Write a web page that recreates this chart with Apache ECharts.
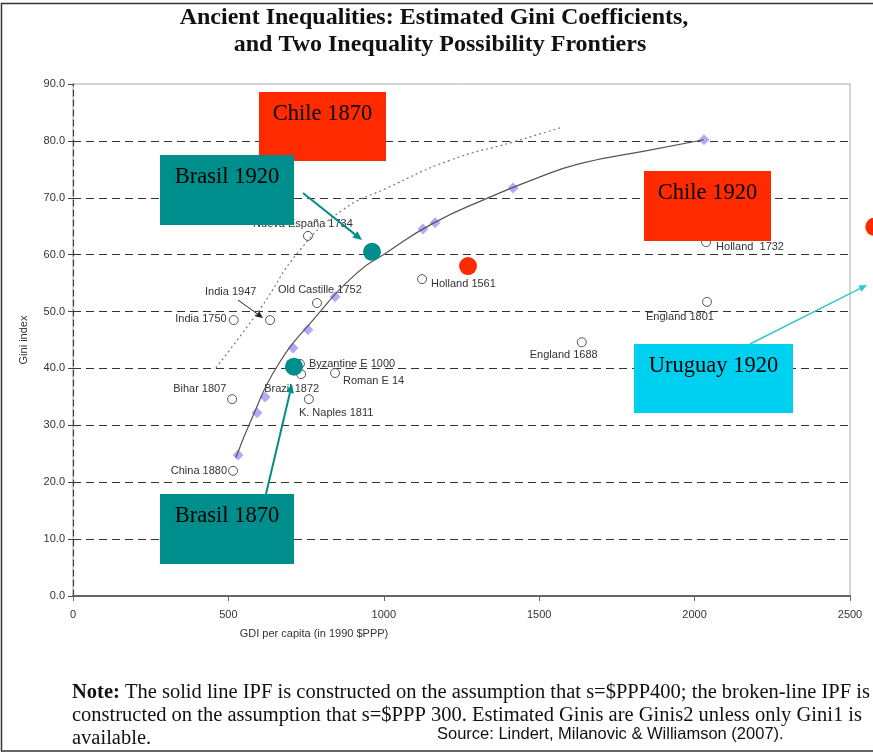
<!DOCTYPE html>
<html>
<head>
<meta charset="utf-8">
<script src="https://cdn.jsdelivr.net/npm/echarts@6/dist/echarts.min.js"></script>
<style>
  html, body { margin: 0; padding: 0; background: #fff; }
  #chart { width: 873px; height: 753px; }
</style>
</head>
<body>
<div id="chart"></div>
<script>
// estimated Gini points (open circles)
const pointNames = ['Nueva España 1734', 'India 1947', 'India 1750', 'Old Castille 1752', 'Holland 1561',
  'England 1688', 'Holland  1732', 'England 1801', 'Byzantine E 1000', 'Brazil 1872',
  'Roman E 14', 'K. Naples 1811', 'Bihar 1807', 'China 1880']
const pointGdp = [756, 634, 517, 785, 1123, 1637, 2037, 2040, 730, 734, 843, 759, 512, 515]
const pointGini = [63.3, 48.5, 48.5, 51.5, 55.7, 44.6, 62.2, 51.7, 40.8, 39.0, 39.2, 34.6, 34.6, 22.0]

// maximum feasible Gini points (diamonds) on the solid IPF
const ipfGdp = [531, 592, 618, 708, 756, 843, 1126, 1165, 1416, 2030]
const ipfGini = [24.8, 32.2, 35.0, 43.6, 46.8, 52.6, 64.5, 65.6, 71.7, 80.2]

// solid line IPF (s = $PPP 400)
const solidGdp = [524, 576, 656, 772, 914, 1010, 1158, 1332, 1480, 1631, 1847, 2030]
const solidGini = [24.3, 31.3, 40.3, 48.5, 56.8, 60.4, 65.5, 69.9, 73.2, 76.0, 78.3, 80.2]

// broken line IPF (s = $PPP 300)
const brokenGdp = [460, 600, 730, 869, 1010, 1213, 1416, 1567]
const brokenGini = [40.1, 50.3, 60.8, 67.9, 71.7, 76.6, 79.8, 82.3]

// highlighted countries
const tealNames = ['Brasil 1920', 'Brasil 1870']
const tealGdp = [962, 711]
const tealGini = [60.5, 40.3]
const redNames = ['Chile 1870', 'Chile 1920']
const redGdp = [1271, 2578]
const redGini = [58.0, 64.9]

const xTicks = [0, 500, 1000, 1500, 2000, 2500]
const yTicks = [0, 10, 20, 30, 40, 50, 60, 70, 80, 90]

// label placement for the circles: [align, dx, dy]
const labelPlace = [
  ['center', -5, -12], ['left', -65, -28], ['right', -7, -1], ['left', -39, -13], ['left', 9, 5],
  ['left', -52, 13], ['left', 10, 5], ['left', -61, 15], ['left', 9, 0], ['left', -37, 15],
  ['left', 8, 8], ['left', -10, 14], ['left', -59, -10], ['right', -6, 0]
]

const TEAL = '#008e8c'
const RED = '#ff2a00'
const CYAN = '#00d0f0'
const serif = '"Liberation Serif", "Times New Roman", serif'
const sans = 'Arial, "Liberation Sans", sans-serif'

const chart = echarts.init(document.getElementById('chart'))

function arrow(x1, y1, x2, y2, color, width, head) {
  const a = Math.atan2(y2 - y1, x2 - x1)
  const w = head * 0.45
  const bx = x2 - head * Math.cos(a)
  const by = y2 - head * Math.sin(a)
  return [
    { type: 'line', z: 110, shape: { x1: x1, y1: y1, x2: bx, y2: by }, style: { stroke: color, lineWidth: width } },
    {
      type: 'polygon', z: 110,
      shape: { points: [[x2, y2], [bx + w * Math.sin(a), by - w * Math.cos(a)], [bx - w * Math.sin(a), by + w * Math.cos(a)]] },
      style: { fill: color }
    }
  ]
}

function box(x, y, w, h, color, text) {
  return [
    { type: 'rect', z: 100, shape: { x: x, y: y, width: w, height: h }, style: { fill: color } },
    {
      type: 'text', z: 101, x: x + w / 2, y: y + 22,
      style: { text: text, font: '22.5px ' + serif, fill: '#000', align: 'center', verticalAlign: 'middle' }
    }
  ]
}

const splitColors = yTicks.map((v, i) => (i === yTicks.length - 1 ? 'rgba(0,0,0,0)' : '#333'))

chart.setOption({
  animation: false,
  grid: { left: 73, right: 23, top: 84, bottom: 157, show: true, borderColor: '#aaa', borderWidth: 1 },
  xAxis: {
    type: 'value',
    min: xTicks[0],
    max: xTicks[xTicks.length - 1],
    interval: 500,
    axisLine: { lineStyle: { color: '#666', width: 2 } },
    axisTick: { show: true, length: 5, lineStyle: { color: '#666' } },
    axisLabel: { color: '#333', fontFamily: sans, fontSize: 11, margin: 13, formatter: v => String(v) },
    splitLine: { show: false }
  },
  yAxis: {
    type: 'value',
    min: yTicks[0],
    max: yTicks[yTicks.length - 1],
    interval: 10,
    name: 'Gini index',
    nameLocation: 'middle',
    nameGap: 44,
    nameTextStyle: { color: '#333', fontFamily: sans, fontSize: 11 },
    axisLine: { show: true, lineStyle: { color: '#444', type: [6, 4], width: 1.2 } },
    axisTick: { show: true, length: 5, lineStyle: { color: '#444' } },
    axisLabel: {
      color: '#333', fontFamily: sans, fontSize: 11, margin: 8,
      formatter: v => v.toFixed(1)
    },
    splitLine: { show: true, lineStyle: { color: splitColors, type: [8, 5], width: 1.2 } }
  },
  series: [
    {
      name: 'broken IPF',
      type: 'line',
      smooth: 0.5,
      showSymbol: false,
      lineStyle: { color: '#777', width: 1.2, type: [2, 3] },
      data: brokenGdp.map((x, i) => [x, brokenGini[i]])
    },
    {
      name: 'solid IPF',
      type: 'line',
      smooth: 0.5,
      showSymbol: false,
      lineStyle: { color: '#555', width: 1.2 },
      data: solidGdp.map((x, i) => [x, solidGini[i]])
    },
    {
      name: 'IPF points',
      type: 'scatter',
      symbol: 'diamond',
      symbolSize: 11,
      itemStyle: { color: '#b2abfc', opacity: 1 },
      data: ipfGdp.map((x, i) => [x, ipfGini[i]])
    },
    {
      name: 'Estimated Gini',
      type: 'scatter',
      symbol: 'circle',
      symbolSize: 9,
      itemStyle: { color: '#fff', borderColor: '#555', borderWidth: 1, opacity: 1 },
      data: pointNames.map((n, i) => ({
        name: n,
        value: [pointGdp[i], pointGini[i]],
        label: {
          show: true,
          position: 'inside',
          align: labelPlace[i][0],
          verticalAlign: 'middle',
          offset: [labelPlace[i][1], labelPlace[i][2]],
          formatter: '{b}',
          color: '#333',
          fontFamily: sans,
          fontSize: 11
        }
      }))
    },
    {
      name: 'Brasil',
      type: 'scatter',
      symbolSize: 18,
      itemStyle: { color: TEAL, opacity: 1 },
      z: 5,
      data: tealNames.map((n, i) => ({ name: n, value: [tealGdp[i], tealGini[i]] }))
    },
    {
      name: 'Chile',
      type: 'scatter',
      symbolSize: 18,
      clip: false,
      itemStyle: { color: RED, opacity: 1 },
      z: 5,
      data: redNames.map((n, i) => ({ name: n, value: [redGdp[i], redGini[i]] }))
    }
  ],
  graphic: [
    // outer frame
    { type: 'polyline', z: 90, shape: { points: [[880, 3.5], [1.5, 3.5], [1.5, 751], [880, 751]] }, style: { stroke: '#333', lineWidth: 1.5, fill: null } },
    {
      type: 'text', x: 434, y: 18,
      style: { text: 'Ancient Inequalities: Estimated Gini Coefficients,', font: 'bold 24px ' + serif, fill: '#111', align: 'center', verticalAlign: 'middle' }
    },
    {
      type: 'text', x: 440, y: 45,
      style: { text: 'and Two Inequality Possibility Frontiers', font: 'bold 24px ' + serif, fill: '#111', align: 'center', verticalAlign: 'middle' }
    },
    {
      type: 'text', x: 314, y: 634,
      style: { text: 'GDI per capita (in 1990 $PPP)', font: '11px ' + sans, fill: '#333', align: 'center', verticalAlign: 'middle' }
    },
    {
      type: 'text', x: 72, y: 693,
      style: {
        text: '{b|Note:} The solid line IPF is constructed on the assumption that s=$PPP400; the broken-line IPF is',
        rich: { b: { font: 'bold 20.5px ' + serif, fill: '#111' } },
        font: '20.5px ' + serif, fill: '#111', verticalAlign: 'middle'
      }
    },
    {
      type: 'text', x: 72, y: 716,
      style: { text: 'constructed on the assumption that s=$PPP 300. Estimated Ginis are Ginis2 unless only Gini1 is', font: '20.5px ' + serif, fill: '#111', verticalAlign: 'middle' }
    },
    {
      type: 'text', x: 72, y: 739,
      style: { text: 'available.', font: '20.5px ' + serif, fill: '#111', verticalAlign: 'middle' }
    },
    {
      type: 'text', x: 437, y: 734,
      style: { text: 'Source: Lindert, Milanovic & Williamson (2007).', font: '16.5px ' + sans, fill: '#111', verticalAlign: 'middle' }
    },
    ...box(259, 92, 127, 69, RED, 'Chile 1870'),
    ...box(160, 155, 134, 70, TEAL, 'Brasil 1920'),
    ...box(644, 171, 127, 70, RED, 'Chile 1920'),
    ...box(634, 344, 159, 69, CYAN, 'Uruguay 1920'),
    ...box(160, 494, 134, 70, TEAL, 'Brasil 1870'),
    ...arrow(303, 193, 362, 240, TEAL, 2, 9),
    ...arrow(266, 494, 292, 384, TEAL, 2, 9),
    ...arrow(750, 344, 867, 285, '#33c8d0', 1.5, 8),
    ...arrow(238, 300, 263, 318, '#222', 1, 7)
  ]
})
</script>
</body>
</html>
